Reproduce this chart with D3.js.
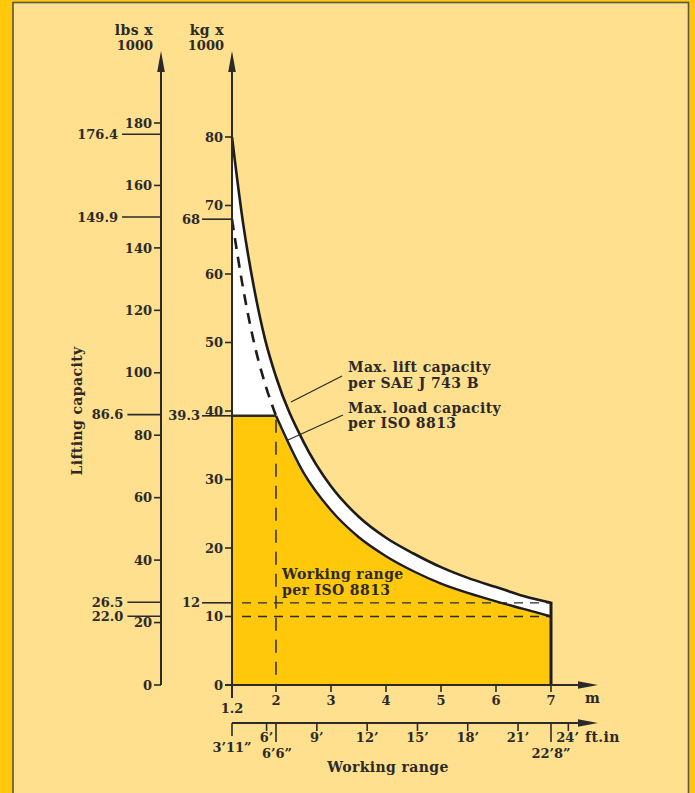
<!DOCTYPE html>
<html>
<head>
<meta charset="utf-8">
<script src="https://cdn.jsdelivr.net/npm/d3@7"></script>
<style>
  body { margin: 0; background: #ffe08e; }
  svg text { font-family: "DejaVu Serif", serif; font-weight: bold; fill: #2b2a28; }
  svg text.lbl { letter-spacing: 0.4px; }
</style>
</head>
<body>
<svg id="chart" width="695" height="793"></svg>
<script>
// working range in metres and lifting capacity in kg x 1000
const rangeM = [1.2, 1.4, 1.6, 1.8, 2, 2.5, 3, 3.5, 4, 4.5, 5, 5.5, 6, 6.5, 7];
const liftSAE = [80, 67.5, 58, 50.5, 45, 35.5, 29, 24.6, 21.5, 19.2, 17.2, 15.6, 14.3, 13, 12];
const loadISO = [68, 58, 50, 44, 39.3, 31, 25.5, 21.6, 18.8, 16.6, 14.8, 13.4, 12.2, 11.1, 10];
const workLimitM = 2; // ISO working range flat top ends here
const workLimitKg = 39.3;

const kgTicks = [0, 10, 20, 30, 40, 50, 60, 70, 80];
const lbsTicks = [0, 20, 40, 60, 80, 100, 120, 140, 160, 180];
const kgMarks = [68, 39.3, 12];
const kgMarkLabels = ["68", "39.3", "12"];
const lbsMarks = [176.4, 149.9, 86.6, 26.5, 22.0];
const lbsMarkLabels = ["176.4", "149.9", "86.6", "26.5", "22.0"];

const mTicks = [2, 3, 4, 5, 6, 7];
const ftTicks = [6, 9, 12, 15, 18, 21, 24];
const ftTickLabels = ["6’", "9’", "12’", "15’", "18’", "21’", "24’"];
const ftLongM = [1.2, 2, 7];
const ftLongLabels = ["3’11”", "6’6”", "22’8”"];

const svg = d3.select("svg#chart");
const W = +svg.attr("width");
const H = +svg.attr("height");
const numSize = 13;
const txtSize = 14;

// page frame
svg.append("rect").attr("x", 0).attr("y", 0).attr("width", W).attr("height", H).attr("fill", "#ffc80b");
svg.append("rect").attr("x", 13).attr("y", 2.5).attr("width", 675.5).attr("height", H + 10)
  .attr("fill", "#ffe08e").attr("stroke", "#5a5548").attr("stroke-width", 1.6);

const x = d3.scaleLinear().domain([1.2, 7]).range([232, 551]);
const yKg = d3.scaleLinear().domain([0, 80]).range([685, 137]);
const yLb = d3.scaleLinear().domain([0, 180]).range([685, 123]);
const ftToM = 0.3048;

const sae = rangeM.map((m, i) => ({ m: m, v: liftSAE[i] }));
const iso = rangeM.map((m, i) => ({ m: m, v: loadISO[i] }));

const line = d3.line().x(d => x(d.m)).y(d => yKg(d.v)).curve(d3.curveMonotoneX);
const area = d3.area().x(d => x(d.m)).y0(yKg(0)).y1(d => yKg(d.v)).curve(d3.curveMonotoneX);

const plot = svg.append("g");

// white band under SAE curve
plot.append("path").datum(sae).attr("d", area).attr("fill", "#ffffff");

// yellow working range
plot.append("rect")
  .attr("x", x(1.2)).attr("y", yKg(workLimitKg))
  .attr("width", x(workLimitM) - x(1.2) + 1).attr("height", yKg(0) - yKg(workLimitKg))
  .attr("fill", "#ffc80b");
plot.append("path").datum(iso.filter(d => d.m >= workLimitM)).attr("d", area).attr("fill", "#ffc80b");

// dashed reference lines
[12, 10].forEach(v => {
  plot.append("line")
    .attr("x1", x(1.2) + 10).attr("x2", x(7))
    .attr("y1", yKg(v)).attr("y2", yKg(v))
    .attr("stroke", "#2b2a28").attr("stroke-width", 1.3).attr("stroke-dasharray", "9,7");
});
plot.append("line")
  .attr("x1", x(workLimitM)).attr("x2", x(workLimitM))
  .attr("y1", yKg(workLimitKg) + 4).attr("y2", yKg(0))
  .attr("stroke", "#2b2a28").attr("stroke-width", 1.5).attr("stroke-dasharray", "13,9");

// curves
plot.append("path").datum(iso.filter(d => d.m <= workLimitM)).attr("d", line)
  .attr("fill", "none").attr("stroke", "#1d1c1a").attr("stroke-width", 2.6).attr("stroke-dasharray", "11,8");
plot.append("path").datum(iso.filter(d => d.m >= workLimitM)).attr("d", line)
  .attr("fill", "none").attr("stroke", "#1d1c1a").attr("stroke-width", 2.4);
plot.append("path").datum(sae).attr("d", line)
  .attr("fill", "none").attr("stroke", "#1d1c1a").attr("stroke-width", 2.6);
plot.append("line")
  .attr("x1", x(7)).attr("x2", x(7)).attr("y1", yKg(0)).attr("y2", yKg(liftSAE[liftSAE.length - 1]) - 1)
  .attr("stroke", "#1d1c1a").attr("stroke-width", 3);
plot.append("line")
  .attr("x1", x(1.2)).attr("x2", x(workLimitM)).attr("y1", yKg(workLimitKg)).attr("y2", yKg(workLimitKg))
  .attr("stroke", "#2b2a28").attr("stroke-width", 2.4);

// axes
const axisColor = "#2b2a28";
function arrowUp(g, ax) {
  g.append("path")
    .attr("d", `M${ax - 3.8},72 L${ax},51 L${ax + 3.8},72 Z`)
    .attr("fill", axisColor);
}
function arrowRight(g, ay) {
  g.append("path")
    .attr("d", `M578,${ay - 3.8} L598,${ay} L578,${ay + 3.8} Z`)
    .attr("fill", axisColor);
}

// lbs axis
const lbsX = 161;
const lbsAxis = svg.append("g");
lbsAxis.append("line").attr("x1", lbsX).attr("x2", lbsX).attr("y1", yLb(0)).attr("y2", 70)
  .attr("stroke", axisColor).attr("stroke-width", 2);
arrowUp(lbsAxis, lbsX);
lbsTicks.forEach(t => {
  lbsAxis.append("line").attr("x1", lbsX - 7).attr("x2", lbsX).attr("y1", yLb(t)).attr("y2", yLb(t))
    .attr("stroke", axisColor).attr("stroke-width", 1.6);
  lbsAxis.append("text").attr("x", lbsX - 9).attr("y", yLb(t)).attr("dy", "0.36em")
    .attr("text-anchor", "end").attr("font-size", numSize).text(t);
});
lbsMarks.forEach((t, i) => {
  const len = 12 + 5.4 * lbsMarkLabels[i].length;
  lbsAxis.append("line").attr("x1", lbsX - len).attr("x2", lbsX).attr("y1", yLb(t)).attr("y2", yLb(t))
    .attr("stroke", axisColor).attr("stroke-width", 1.6);
  lbsAxis.append("text").attr("x", lbsX - len - 4).attr("y", yLb(t)).attr("dy", "0.36em")
    .attr("text-anchor", "end").attr("font-size", numSize).text(lbsMarkLabels[i]);
});
lbsAxis.append("text").attr("class", "lbl").attr("x", 153).attr("y", 35).attr("text-anchor", "end").attr("font-size", txtSize).text("lbs x");
lbsAxis.append("text").attr("x", 153).attr("y", 50).attr("text-anchor", "end").attr("font-size", numSize).text("1000");

// kg axis
const kgX = x(1.2);
const kgAxis = svg.append("g");
kgAxis.append("line").attr("x1", kgX).attr("x2", kgX).attr("y1", yKg(0) + 13).attr("y2", 70)
  .attr("stroke", axisColor).attr("stroke-width", 2);
arrowUp(kgAxis, kgX);
kgTicks.forEach(t => {
  kgAxis.append("line").attr("x1", kgX - 7).attr("x2", kgX).attr("y1", yKg(t)).attr("y2", yKg(t))
    .attr("stroke", axisColor).attr("stroke-width", 1.6);
  kgAxis.append("text").attr("x", kgX - 9).attr("y", yKg(t)).attr("dy", "0.36em")
    .attr("text-anchor", "end").attr("font-size", numSize).text(t);
});
kgMarks.forEach((t, i) => {
  kgAxis.append("line").attr("x1", kgX - 30).attr("x2", kgX).attr("y1", yKg(t)).attr("y2", yKg(t))
    .attr("stroke", axisColor).attr("stroke-width", 1.6);
  kgAxis.append("text").attr("x", kgX - 32).attr("y", yKg(t)).attr("dy", "0.36em")
    .attr("text-anchor", "end").attr("font-size", numSize).text(kgMarkLabels[i]);
});
kgAxis.append("text").attr("class", "lbl").attr("x", 224).attr("y", 35).attr("text-anchor", "end").attr("font-size", txtSize).text("kg x");
kgAxis.append("text").attr("x", 224).attr("y", 50).attr("text-anchor", "end").attr("font-size", numSize).text("1000");

svg.append("text").attr("class", "lbl")
  .attr("transform", `translate(82,${yKg(40)}) rotate(-90)`)
  .attr("text-anchor", "middle").attr("font-size", txtSize).text("Lifting capacity");

// metre axis
const mY = yKg(0);
const mAxis = svg.append("g");
mAxis.append("line").attr("x1", kgX - 7).attr("x2", 580).attr("y1", mY).attr("y2", mY)
  .attr("stroke", axisColor).attr("stroke-width", 2);
arrowRight(mAxis, mY);
mTicks.forEach(t => {
  mAxis.append("line").attr("x1", x(t)).attr("x2", x(t)).attr("y1", mY).attr("y2", mY + 7)
    .attr("stroke", axisColor).attr("stroke-width", 1.6);
  mAxis.append("text").attr("x", x(t)).attr("y", mY + 20).attr("text-anchor", "middle")
    .attr("font-size", numSize).text(t);
});
mAxis.append("text").attr("x", x(1.2)).attr("y", mY + 28).attr("text-anchor", "middle")
  .attr("font-size", numSize).text("1.2");
mAxis.append("text").attr("x", 585).attr("y", mY + 18).attr("font-size", txtSize).text("m");

// feet axis
const ftY = 723;
const ftAxis = svg.append("g");
ftAxis.append("line").attr("x1", x(1.2)).attr("x2", 580).attr("y1", ftY).attr("y2", ftY)
  .attr("stroke", axisColor).attr("stroke-width", 2);
arrowRight(ftAxis, ftY);
ftTicks.forEach((t, i) => {
  const px = x(t * ftToM);
  ftAxis.append("line").attr("x1", px).attr("x2", px).attr("y1", ftY).attr("y2", ftY + 8)
    .attr("stroke", axisColor).attr("stroke-width", 1.6);
  ftAxis.append("text").attr("x", px).attr("y", ftY + 19)
    .attr("text-anchor", i === ftTicks.length - 1 ? "start" : "middle")
    .attr("dx", i === ftTicks.length - 1 ? -12 : 0)
    .attr("font-size", numSize).text(ftTickLabels[i]);
});
ftLongM.forEach((m, i) => {
  ftAxis.append("line").attr("x1", x(m)).attr("x2", x(m)).attr("y1", ftY).attr("y2", ftY + (i === 0 ? 13 : 19))
    .attr("stroke", axisColor).attr("stroke-width", 1.6);
  ftAxis.append("text").attr("x", x(m) + (i === 1 ? 1 : 0)).attr("y", ftY + (i === 0 ? 29 : 35))
    .attr("text-anchor", "middle").attr("font-size", numSize).text(ftLongLabels[i]);
});
ftAxis.append("text").attr("class", "lbl").attr("x", 585).attr("y", ftY + 19).attr("font-size", txtSize).text("ft.in");
svg.append("text").attr("class", "lbl").attr("x", 388).attr("y", 772).attr("text-anchor", "middle")
  .attr("font-size", txtSize).text("Working range");

// annotations
const notes = svg.append("g");
notes.append("line").attr("x1", 291).attr("y1", 402).attr("x2", 342).attr("y2", 376)
  .attr("stroke", axisColor).attr("stroke-width", 1.3);
notes.append("line").attr("x1", 288).attr("y1", 440).attr("x2", 343).attr("y2", 415)
  .attr("stroke", axisColor).attr("stroke-width", 1.3);
[["Max. lift capacity", 372], ["per SAE J 743 B", 388], ["Max. load capacity", 413], ["per ISO 8813", 428]]
  .forEach(d => {
    notes.append("text").attr("class", "lbl").attr("x", 348).attr("y", d[1]).attr("font-size", txtSize).text(d[0]);
  });
notes.append("text").attr("class", "lbl").attr("x", 282).attr("y", 579).attr("font-size", txtSize).text("Working range");
notes.append("text").attr("class", "lbl").attr("x", 282).attr("y", 595).attr("font-size", txtSize).text("per ISO 8813");
</script>
</body>
</html>
